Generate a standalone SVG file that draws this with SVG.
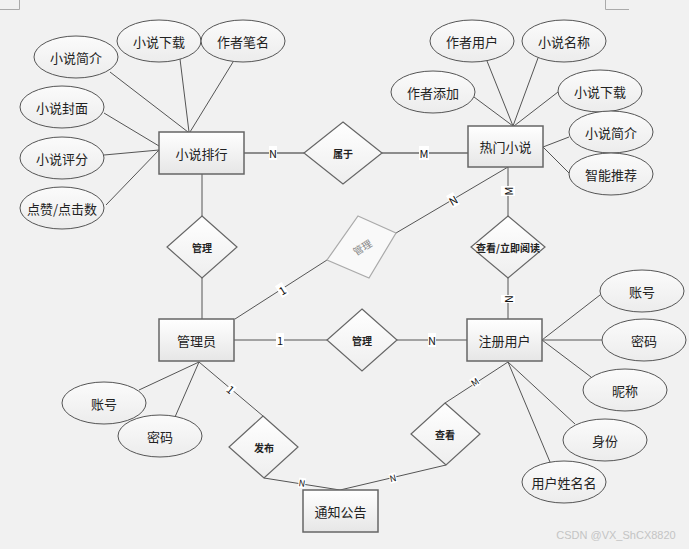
<svg xmlns="http://www.w3.org/2000/svg" width="689" height="549" viewBox="0 0 689 549">
<defs>
<linearGradient id="gBox" x1="0" y1="0" x2="0" y2="1"><stop offset="0" stop-color="#ffffff"/><stop offset="1" stop-color="#e6e6e6"/></linearGradient>
<linearGradient id="gEl" x1="0" y1="0" x2="0" y2="1"><stop offset="0" stop-color="#fbfbfb"/><stop offset="1" stop-color="#ececec"/></linearGradient>
<linearGradient id="gDia" x1="0" y1="0" x2="0" y2="1"><stop offset="0" stop-color="#ffffff"/><stop offset="1" stop-color="#eeeeee"/></linearGradient>
<style>
text{font-family:"Noto Sans CJK SC","Liberation Sans",sans-serif;fill:#222;text-anchor:middle;dominant-baseline:central}
.ent rect{fill:url(#gBox);stroke:#666;stroke-width:1.5}
.ent text{font-size:13px}
.att ellipse{fill:url(#gEl);stroke:#555;stroke-width:1}
.att text{font-size:13px}
.rel polygon{fill:url(#gDia);stroke:#666;stroke-width:1.2}
.rel text{font-size:10px;font-weight:bold}
.ln line{stroke:#555;stroke-width:1}
.ln .thick{stroke:#8c8c8c;stroke-width:2}
.lbl rect{fill:#fff}
.lbl text{font-size:11px;fill:#111}
.mark{stroke:#aaa;stroke-width:1;fill:none}
</style>
</defs>
<rect width="689" height="549" fill="#f1f1f1"/>
<path class="mark" d="M0 9.5H19.5V0M605.5 0V9.5H629"/>

<g id="connectors" class="ln">
<line x1="110" y1="72" x2="188" y2="132"/>
<line x1="180" y1="59" x2="189" y2="132"/>
<line x1="233" y1="62" x2="190" y2="132"/>
<line x1="104" y1="113" x2="159" y2="146"/>
<line x1="104" y1="155" x2="159" y2="150"/>
<line x1="106" y1="205" x2="159" y2="150"/>
<line class="thick" x1="244" y1="153" x2="304" y2="153"/>
<line class="thick" x1="382" y1="153" x2="468" y2="153"/>
<line x1="202" y1="174" x2="202" y2="216"/>
<line x1="202" y1="278" x2="202" y2="319"/>
<line x1="474" y1="97" x2="513" y2="126"/>
<line x1="487" y1="61" x2="513" y2="126"/>
<line x1="538" y1="58" x2="513" y2="126"/>
<line x1="558" y1="92" x2="514" y2="126"/>
<line x1="569" y1="137" x2="543" y2="147"/>
<line x1="569" y1="173" x2="543" y2="147"/>
<line x1="508" y1="167" x2="396" y2="233"/>
<line x1="327" y1="260" x2="235" y2="319"/>
<line x1="508" y1="167" x2="508" y2="216"/>
<line x1="508" y1="278" x2="508" y2="319"/>
<line x1="234" y1="340" x2="327" y2="340"/>
<line x1="397" y1="340" x2="467" y2="340"/>
<line x1="139" y1="390" x2="199" y2="362"/>
<line x1="175" y1="417" x2="199" y2="362"/>
<line x1="199" y1="362" x2="263" y2="416"/>
<line x1="264" y1="478" x2="340" y2="490"/>
<line x1="446" y1="465" x2="340" y2="490"/>
<line x1="508" y1="362" x2="445" y2="403"/>
<line x1="542" y1="340" x2="600" y2="295"/>
<line x1="542" y1="340" x2="602" y2="340"/>
<line x1="542" y1="340" x2="591" y2="377"/>
<line x1="508" y1="362" x2="575" y2="424"/>
<line x1="508" y1="362" x2="550" y2="462"/>
</g>

<g id="labels" class="lbl">
<g transform="translate(273,153)"><rect x="-4" y="-7" width="8" height="14"/><text>N</text></g>
<g transform="translate(424,153)"><rect x="-5" y="-7" width="10" height="14"/><text>M</text></g>
<g transform="translate(453,200) rotate(-30)"><rect x="-4" y="-7" width="8" height="14"/><text>N</text></g>
<g transform="translate(508,191) rotate(-90)"><rect x="-5" y="-7" width="10" height="14"/><text>M</text></g>
<g transform="translate(508,299) rotate(-90)"><rect x="-4" y="-7" width="8" height="14"/><text>N</text></g>
<g transform="translate(282,290) rotate(-32)"><rect x="-4" y="-7" width="8" height="14"/><text>1</text></g>
<g transform="translate(280,340)"><rect x="-4" y="-7" width="8" height="14"/><text>1</text></g>
<g transform="translate(432,340)"><rect x="-4" y="-7" width="8" height="14"/><text>N</text></g>
<g transform="translate(231,389) rotate(40)"><rect x="-3.5" y="-5" width="7" height="10"/><text font-size="9">1</text></g>
<g transform="translate(302,483) rotate(9)"><rect x="-3.5" y="-5" width="7" height="10"/><text style="font-size:9px">N</text></g>
<g transform="translate(475,382) rotate(-33)"><rect x="-4" y="-5" width="8" height="10"/><text style="font-size:9px">M</text></g>
<g transform="translate(393,478) rotate(-13)"><rect x="-3.5" y="-5" width="7" height="10"/><text style="font-size:9px">N</text></g>
</g>

<g id="e-xiaoshuopaihang" class="ent"><rect x="159" y="132" width="85" height="42"/><text x="201.5" y="153">小说排行</text></g>
<g id="e-remenxiaoshuo" class="ent"><rect x="468" y="126" width="75" height="41"/><text x="505.5" y="146.5">热门小说</text></g>
<g id="e-guanliyuan" class="ent"><rect x="159" y="319" width="75" height="42"/><text x="196.5" y="340">管理员</text></g>
<g id="e-zhuceyonghu" class="ent"><rect x="467" y="319" width="75" height="42"/><text x="504.5" y="340">注册用户</text></g>
<g id="e-tongzhigonggao" class="ent"><rect x="303" y="490" width="75" height="42"/><text x="340.5" y="511">通知公告</text></g>

<g id="a-jianjie1" class="att"><ellipse cx="76" cy="57" rx="42" ry="21"/><text x="76" y="57">小说简介</text></g>
<g id="a-xiazai1" class="att"><ellipse cx="159" cy="41" rx="42" ry="21"/><text x="159" y="41">小说下载</text></g>
<g id="a-biming" class="att"><ellipse cx="243" cy="41" rx="42" ry="21"/><text x="243" y="41">作者笔名</text></g>
<g id="a-fengmian" class="att"><ellipse cx="62" cy="107" rx="42" ry="21"/><text x="62" y="107">小说封面</text></g>
<g id="a-pingfen" class="att"><ellipse cx="62" cy="158" rx="42" ry="21"/><text x="62" y="158">小说评分</text></g>
<g id="a-dianzan" class="att"><ellipse cx="62" cy="208" rx="42" ry="21"/><text x="62" y="208">点赞/点击数</text></g>

<g id="a-zuozheyonghu" class="att"><ellipse cx="472" cy="41" rx="42" ry="21"/><text x="472" y="41">作者用户</text></g>
<g id="a-mingcheng" class="att"><ellipse cx="564" cy="41" rx="42" ry="21"/><text x="564" y="41">小说名称</text></g>
<g id="a-tianjia" class="att"><ellipse cx="433" cy="92" rx="42" ry="21"/><text x="433" y="92">作者添加</text></g>
<g id="a-xiazai2" class="att"><ellipse cx="600" cy="91" rx="42" ry="21"/><text x="600" y="91">小说下载</text></g>
<g id="a-jianjie2" class="att"><ellipse cx="611" cy="132" rx="42" ry="21"/><text x="611" y="132">小说简介</text></g>
<g id="a-tuijian" class="att"><ellipse cx="611" cy="174" rx="42" ry="21"/><text x="611" y="174">智能推荐</text></g>

<g id="a-zhanghao1" class="att"><ellipse cx="104" cy="403" rx="42" ry="21"/><text x="104" y="403">账号</text></g>
<g id="a-mima1" class="att"><ellipse cx="160" cy="436" rx="42" ry="21"/><text x="160" y="436">密码</text></g>

<g id="a-zhanghao2" class="att"><ellipse cx="642" cy="291" rx="42" ry="21"/><text x="642" y="291">账号</text></g>
<g id="a-mima2" class="att"><ellipse cx="644" cy="340" rx="42" ry="21"/><text x="644" y="340">密码</text></g>
<g id="a-nicheng" class="att"><ellipse cx="625" cy="390" rx="42" ry="21"/><text x="625" y="390">昵称</text></g>
<g id="a-shenfen" class="att"><ellipse cx="605" cy="440" rx="42" ry="21"/><text x="605" y="440">身份</text></g>
<g id="a-xingming" class="att"><ellipse cx="564" cy="482" rx="42" ry="21"/><text x="564" y="482">用户姓名名</text></g>

<g id="r-shuyu" class="rel"><polygon points="343,122 382,153 343,184 304,153"/><text x="343" y="153">属于</text></g>
<g id="r-guanli1" class="rel"><polygon points="202,216 237,247 202,278 167,247"/><text x="202" y="247">管理</text></g>
<g id="r-guanli2" class="rel"><polygon points="358,216 396,233 369,278 327,260" style="fill:#f9f9f9;stroke:#aaa"/><text x="362" y="247" transform="rotate(-32 362 247)" style="fill:#888;font-weight:normal">管理</text></g>
<g id="r-chakan1" class="rel"><polygon points="508,216 545,247 508,278 471,247"/><text x="508" y="247">查看/立即阅读</text></g>
<g id="r-guanli3" class="rel"><polygon points="362,309 397,340 362,371 327,340"/><text x="362" y="340">管理</text></g>
<g id="r-fabu" class="rel"><polygon points="263,416 298,447 264,478 229,447"/><text x="264" y="447">发布</text></g>
<g id="r-chakan2" class="rel"><polygon points="445,403 480,434 446,465 411,434"/><text x="445" y="434">查看</text></g>

<text x="616" y="535" style="font-family:'Liberation Sans',sans-serif;font-size:11px;fill:#c4c4c4">CSDN @VX_ShCX8820</text>
</svg>
